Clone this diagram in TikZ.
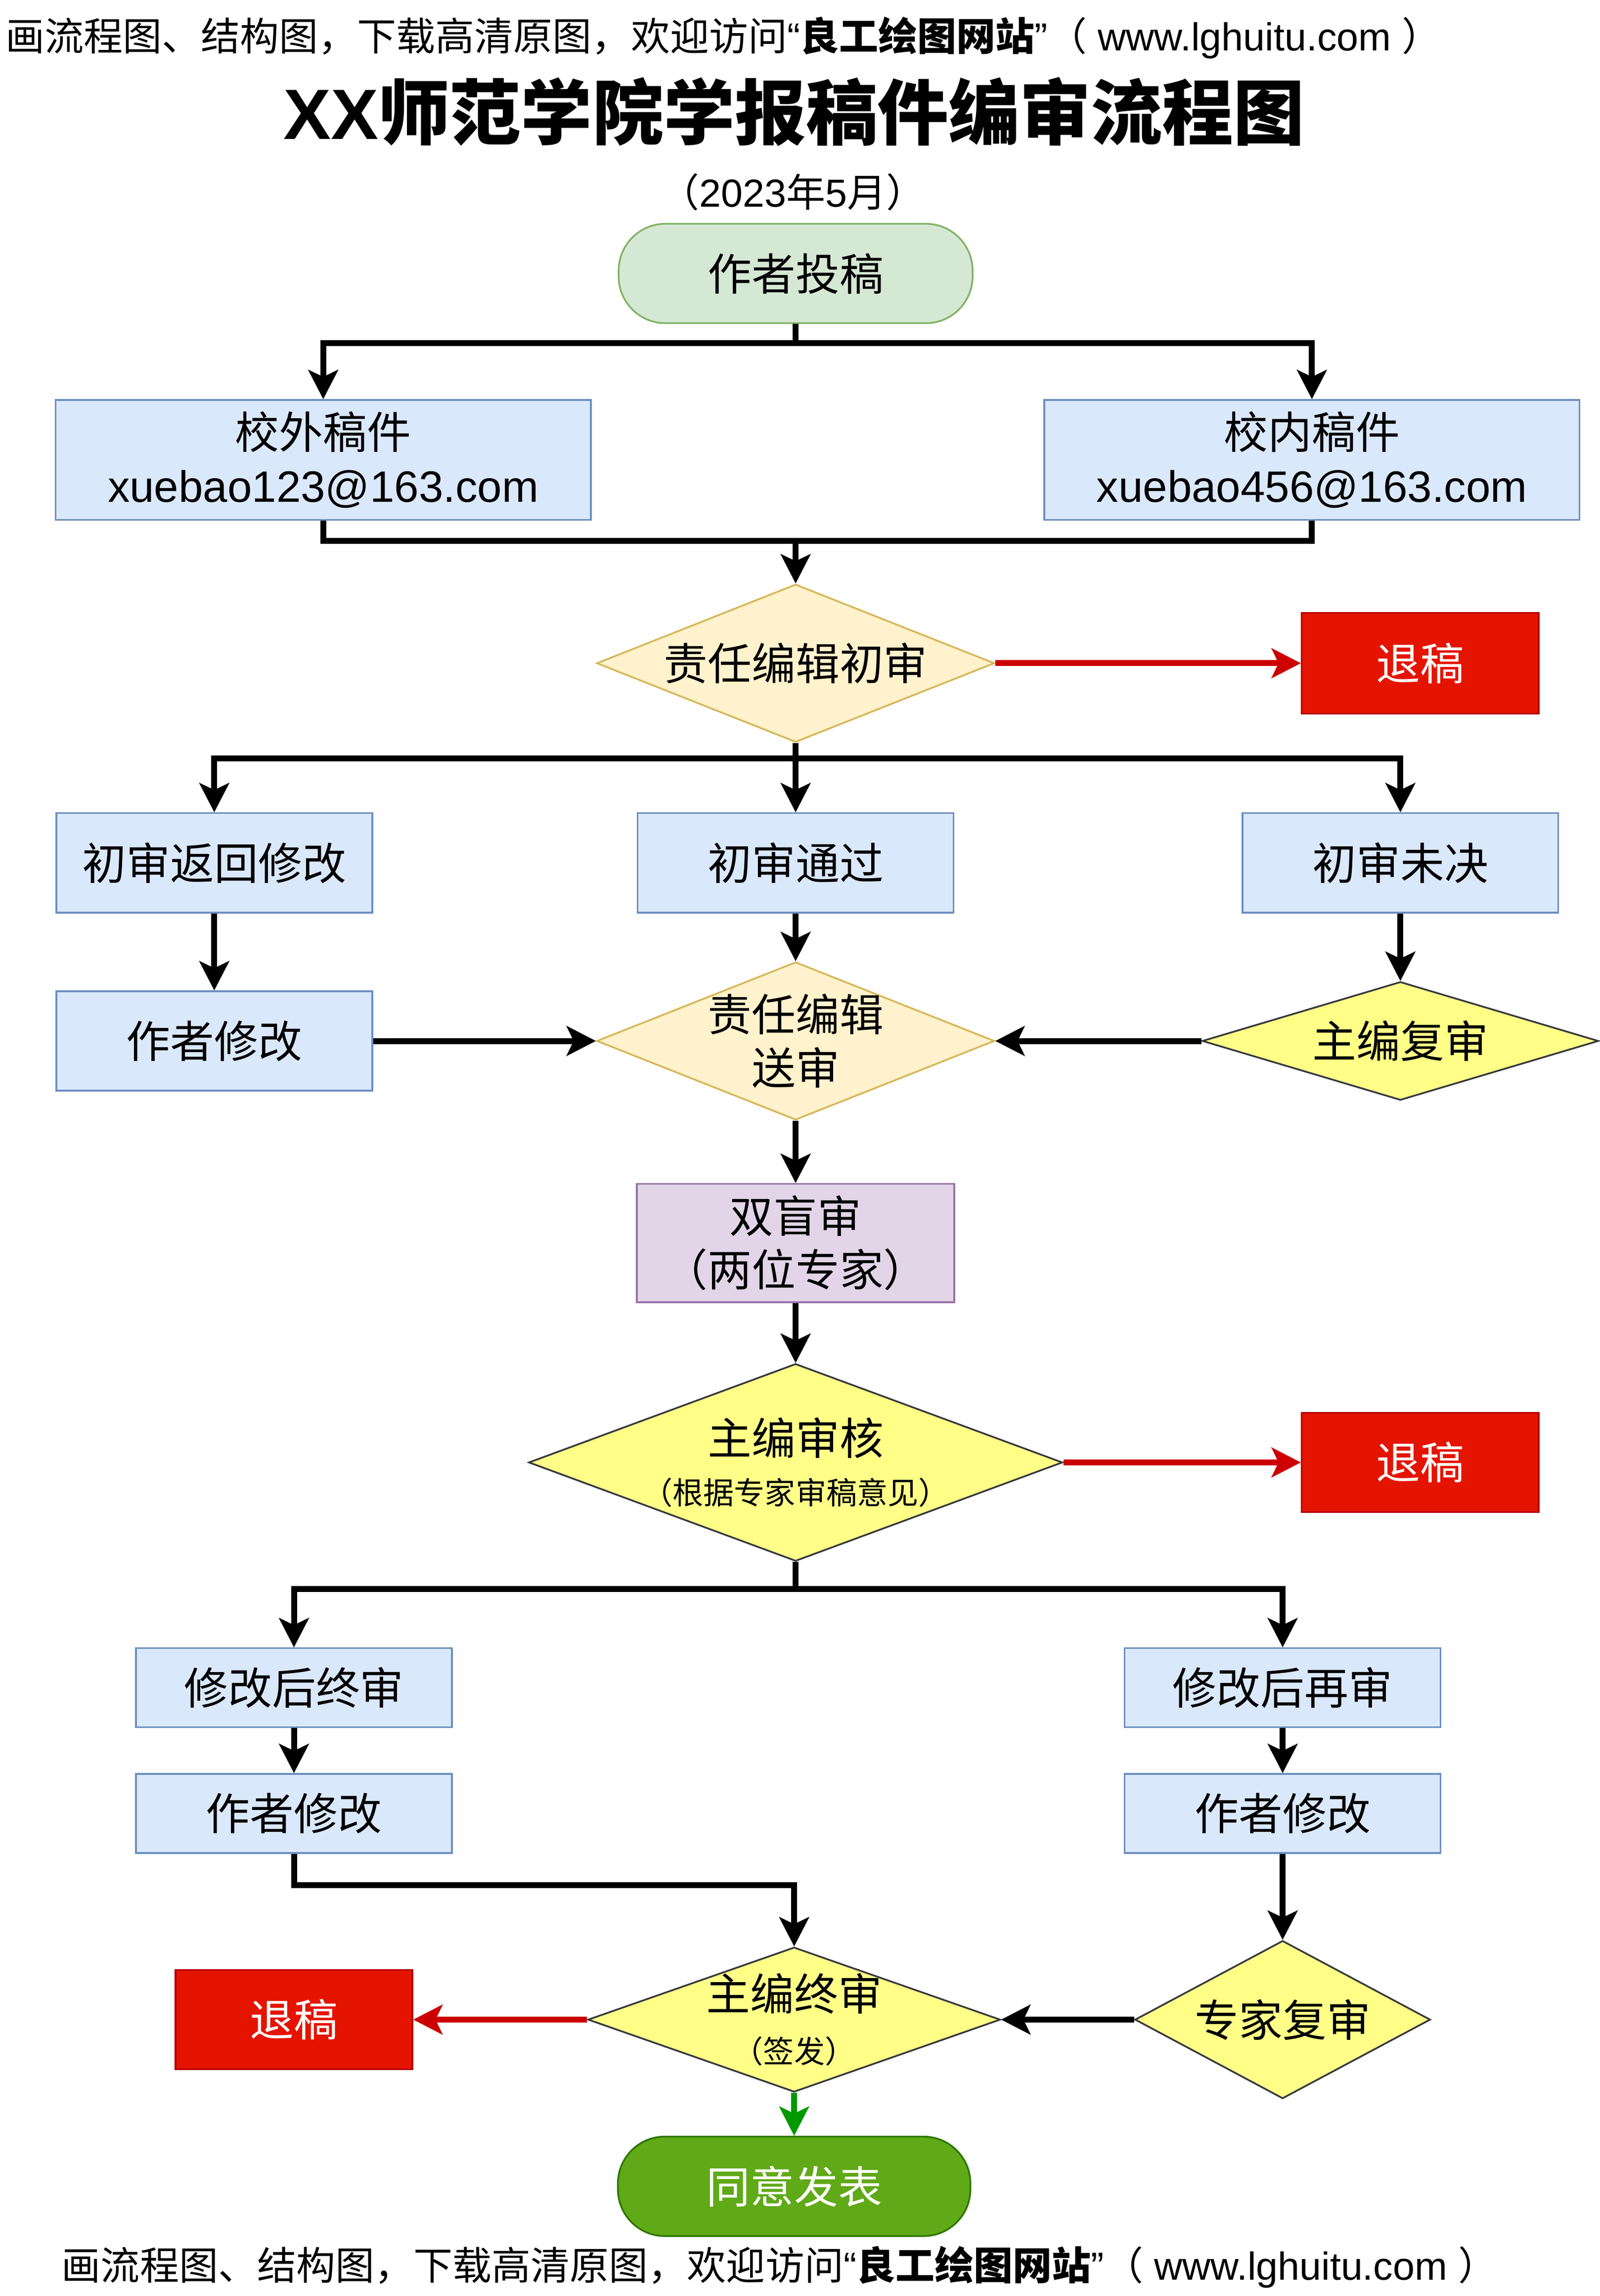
\documentclass[tikz,border=0pt]{standalone}
\usepackage{fontspec}
\setmainfont{Noto Sans CJK SC}
\newfontfamily\lat{Liberation Sans}
\usetikzlibrary{arrows.meta,shapes.geometric,calc}
\newlength\px
\setlength\px{0.02958cm}
\definecolor{StartFill}{HTML}{D5E8D4}
\definecolor{StartLine}{HTML}{82B366}
\definecolor{BlueFill}{HTML}{DAE8FC}
\definecolor{BlueLine}{HTML}{6C8EBF}
\definecolor{OrangeFill}{HTML}{FFF2CC}
\definecolor{OrangeLine}{HTML}{D6B656}
\definecolor{YelFill}{HTML}{FFFF88}
\definecolor{YelLine}{HTML}{36393D}
\definecolor{PurFill}{HTML}{E1D5E7}
\definecolor{PurLine}{HTML}{9673A6}
\definecolor{RejFill}{HTML}{E51400}
\definecolor{RejLine}{HTML}{B20000}
\definecolor{PubFill}{HTML}{60A917}
\definecolor{PubLine}{HTML}{2D7600}
\definecolor{RedArr}{HTML}{CC0000}
\definecolor{GreenArr}{HTML}{009900}
\tikzset{
    box/.style = {draw, rectangle, line width=1pt, inner sep=1pt, align=center,
        font=\fontsize{25.3}{30.8}\selectfont},
    bluebox/.style = {box, fill=BlueFill, draw=BlueLine,
        minimum width=216\px, minimum height=68\px},
    startbox/.style = {box, fill=StartFill, draw=StartLine, rounded corners=32\px,
        minimum width=242\px, minimum height=68\px},
    pubbox/.style = {box, fill=PubFill, draw=PubLine, text=white, rounded corners=32\px,
        minimum width=241\px, minimum height=68\px},
    rejbox/.style = {box, fill=RejFill, draw=RejLine, text=white,
        minimum width=162\px, minimum height=68\px},
    purbox/.style = {box, fill=PurFill, draw=PurLine,
        minimum width=217\px, minimum height=81\px},
    dia/.style = {draw, diamond, line width=1pt, inner sep=0pt},
    orangedia/.style = {dia, fill=OrangeFill, draw=OrangeLine},
    yeldia/.style = {dia, fill=YelFill, draw=YelLine},
    dtxt/.style = {align=center, inner sep=0pt, font=\fontsize{25.3}{30.8}\selectfont},
    line/.style = {draw, line width=0.12cm},
    arrow/.style = {line, -{Stealth[length=0.6cm, width=0.62cm, inset=0.15cm, line width=0pt]}},
    redarrow/.style = {arrow, draw=RedArr},
    greenarrow/.style = {arrow, draw=GreenArr}
}
\newcommand{\smalltxt}{\fontsize{17.7}{30.8}\selectfont}
\begin{document}
\begin{tikzpicture}[x=0.02958cm, y=-0.02958cm]
    \useasboundingbox (0,0) rectangle (1094,1570);
    % header, title and date
    \node[anchor=west, inner sep=0pt, font=\fontsize{22.5}{26}\selectfont] (head) at (3.5,25.7)
        {画流程图、结构图，下载高清原图，欢迎访问{\lat “}\textbf{良工绘图网站}{\lat ”}（{\lat\ www.lghuitu.com\ }）};
    \node[font=\bfseries\fontsize{41}{48}\selectfont] (title) at (543,76.5) {{\lat XX}师范学院学报稿件编审流程图};
    \node[font=\fontsize{22.5}{26}\selectfont] (date) at (542,131.3) {（{\lat 2023}年{\lat 5}月）};
    % submission
    \node[startbox] (start) at (544,187) {作者投稿};
    \node[bluebox, minimum width=366\px, minimum height=82\px] (outer) at (221,314.5) {校外稿件\\{\lat xuebao123@163.com}};
    \node[bluebox, minimum width=366\px, minimum height=82\px] (inner) at (897,314.5) {校内稿件\\{\lat xuebao456@163.com}};
    % first review
    \node[orangedia, minimum width=272\px, minimum height=108\px, label={[dtxt]center:责任编辑初审}] (chk1) at (544,453.5) {};
    \node[rejbox, minimum height=69\px] (rej1) at (971,453.5) {退稿};
    \node[bluebox] (ret) at (146.5,590) {初审返回修改};
    \node[bluebox] (pass) at (544,590) {初审通过};
    \node[bluebox] (pend) at (957.5,590) {初审未决};
    \node[bluebox] (rev1) at (146.5,711.8) {作者修改};
    \node[orangedia, minimum width=272\px, minimum height=108\px, label={[dtxt]center:{责任编辑\\送审}}] (send) at (544,711.8) {};
    \node[yeldia, minimum width=271\px, minimum height=81\px, label={[dtxt]center:主编复审}] (chief1) at (957.5,711.8) {};
    % peer review
    \node[purbox] (blind) at (544,850) {双盲审\\（两位专家）};
    \node[yeldia, minimum width=365\px, minimum height=135\px, label={[dtxt]center:{主编审核\\[-2.5pt]{\smalltxt（根据专家审稿意见）}}}] (chief2) at (544,1000) {};
    \node[rejbox] (rej2) at (971,1000) {退稿};
    \node[bluebox, minimum height=54\px] (fin) at (201,1154) {修改后终审};
    \node[bluebox, minimum height=54\px] (again) at (877,1154) {修改后再审};
    \node[bluebox, minimum height=54\px] (rev2) at (201,1240) {作者修改};
    \node[bluebox, minimum height=54\px] (rev3) at (877,1240) {作者修改};
    % final decision
    \node[yeldia, minimum width=282\px, minimum height=99\px, label={[dtxt]center:{主编终审\\[-0.5pt]{\smalltxt（签发）}}}] (chief3) at (543,1381) {};
    \node[yeldia, minimum width=202\px, minimum height=108\px, label={[dtxt]center:专家复审}] (expert) at (877,1381) {};
    \node[rejbox] (rej3) at (201,1381) {退稿};
    \node[pubbox] (pub) at (543,1495) {同意发表};
    % footer
    \node[anchor=west, inner sep=0pt, font=\fontsize{22.5}{26}\selectfont] (foot) at (42,1550)
        {画流程图、结构图，下载高清原图，欢迎访问{\lat “}\textbf{良工绘图网站}{\lat ”}（{\lat\ www.lghuitu.com\ }）};
    % bend points
    \coordinate (split1) at (544,234.6);
    \coordinate (join1) at (544,370);
    \coordinate (split2) at (544,518.5);
    \coordinate (split3) at (544,1086.4);
    \coordinate (join2) at (543,1289);
    % connectors
    \draw[line] (start.south) -- (split1);
    \draw[arrow] (split1) -| (outer.north);
    \draw[arrow] (split1) -| (inner.north);
    \draw[line] (outer.south) |- (join1);
    \draw[line] (inner.south) |- (join1);
    \draw[arrow] (join1) -- (chk1.north);
    \draw[redarrow] (chk1.east) -- (rej1.west);
    \draw[line] (chk1.south) -- (split2);
    \draw[arrow] (split2) -| (ret.north);
    \draw[arrow] (split2) -- (pass.north);
    \draw[arrow] (split2) -| (pend.north);
    \draw[arrow] (ret.south) -- (rev1.north);
    \draw[arrow] (pass.south) -- (send.north);
    \draw[arrow] (pend.south) -- (chief1.north);
    \draw[arrow] (rev1.east) -- (send.west);
    \draw[arrow] (chief1.west) -- (send.east);
    \draw[arrow] (send.south) -- (blind.north);
    \draw[arrow] (blind.south) -- (chief2.north);
    \draw[redarrow] (chief2.east) -- (rej2.west);
    \draw[line] (chief2.south) -- (split3);
    \draw[arrow] (split3) -| (fin.north);
    \draw[arrow] (split3) -| (again.north);
    \draw[arrow] (fin.south) -- (rev2.north);
    \draw[arrow] (again.south) -- (rev3.north);
    \draw[arrow] (rev2.south) |- (join2) -- (chief3.north);
    \draw[arrow] (rev3.south) -- (expert.north);
    \draw[arrow] (expert.west) -- (chief3.east);
    \draw[redarrow] (chief3.west) -- (rej3.east);
    \draw[greenarrow] (chief3.south) -- (pub.north);
\end{tikzpicture}
\end{document}
